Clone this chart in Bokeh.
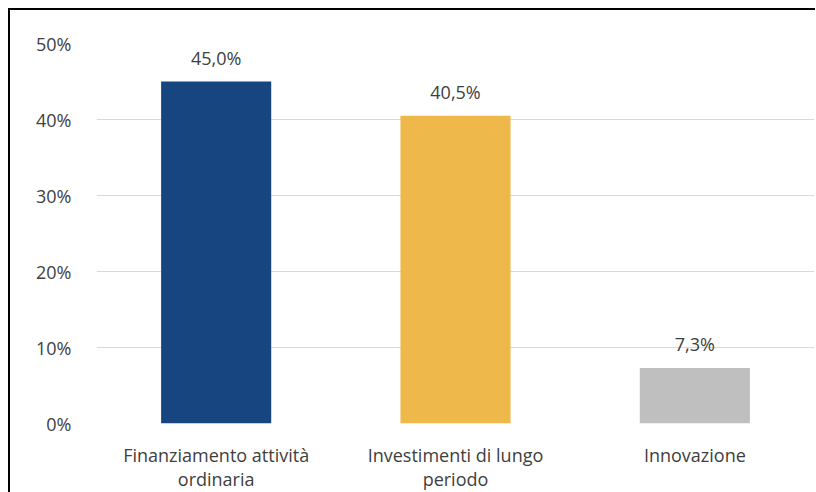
from bokeh.plotting import figure
from bokeh.models import ColumnDataSource, FactorRange, Range1d, FixedTicker, NumeralTickFormatter
from bokeh.core.properties import value
from bokeh.embed import file_html
from bokeh.resources import INLINE

categories = ["Finanziamento attività\nordinaria", "Investimenti di lungo\nperiodo", "Innovazione"]
values = [0.450, 0.405, 0.073]
colors = ["#17457F", "#EEB84B", "#BFBFBF"]
labels = [f"{v*100:.1f}%".replace(".", ",") for v in values]
y_ticks = [0.0, 0.1, 0.2, 0.3, 0.4, 0.5]

FONT = "Open Sans"
TXT = "#404040"

src = ColumnDataSource(dict(cat=categories, val=values, col=colors, lab=labels))

p = figure(x_range=FactorRange(*categories, range_padding=0), y_range=Range1d(0, 0.5),
           frame_width=718, frame_height=380, output_backend="svg", toolbar_location=None,
           min_border_left=86, min_border_right=1, min_border_top=33, min_border_bottom=69)
p.styles = {"border-left": "2px solid #000", "border-top": "2px solid #000",
            "margin-left": "8px", "margin-top": "8px"}

p.vbar(x="cat", top="val", width=0.46, fill_color="col", line_color=None, source=src)
p.text(x="cat", y="val", text="lab", source=src, text_align="center", text_baseline="alphabetic",
       y_offset=-24, text_font=value(FONT), text_font_size="18px", text_color=TXT)

p.outline_line_color = None
p.background_fill_color = "white"
p.border_fill_color = "white"
p.xgrid.grid_line_color = None
p.ygrid.grid_line_color = "#D9D9D9"
p.ygrid.grid_line_width = 1

p.yaxis.ticker = FixedTicker(ticks=y_ticks)
p.yaxis.formatter = NumeralTickFormatter(format="0%")
for ax in (p.xaxis, p.yaxis):
    ax.axis_line_color = None
    ax.major_tick_line_color = None
    ax.minor_tick_line_color = None
    ax.major_label_text_font = FONT
    ax.major_label_text_font_size = "18px"
    ax.major_label_text_color = TXT
p.xaxis.major_label_text_line_height = 1.0
p.yaxis.major_label_standoff = 19
p.xaxis.major_label_standoff = 13

open("out.html", "w").write(file_html(p, INLINE))
